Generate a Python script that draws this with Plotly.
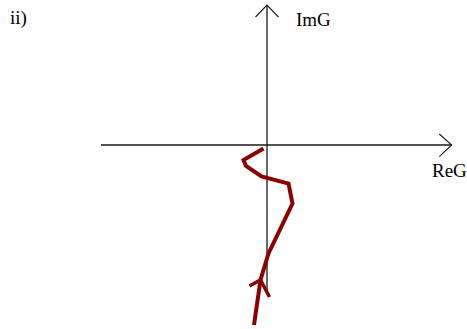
import plotly.graph_objects as go

# ---- data: Nyquist sketch of G (Re, Im) ----
re_g = [-0.07, -0.47, -0.42, -0.11, 0.43, 0.51, 0.03, -0.13, -0.26]
im_g = [-0.07, -0.30, -0.42, -0.63, -0.77, -1.17, -2.17, -2.70, -3.60]
arrow_index = 7  # point of the curve that carries the direction arrow

panel_label = "ii)"
x_label = "ReG"
y_label = "ImG"

# ---- layout constants ----
W, H = 467, 329
S = 50.0          # pixels per unit
OX, OY = 267, 145 # origin pixel position
x_range = [-OX / S, (W - OX) / S]
y_range = [(OY - H) / S, OY / S]

def du(px):
    return px / S

curve_color = "#8b0000"
axis_color = "#1a1a1a"

fig = go.Figure()

# horizontal axis with open arrow
fig.add_trace(go.Scatter(x=[du(101 - OX), du(451.7 - OX)], y=[0, 0], mode="lines",
                         line=dict(color=axis_color, width=1.3), hoverinfo="skip"))
fig.add_trace(go.Scatter(x=[du(439.3 - OX), du(451.7 - OX), du(439.3 - OX)],
                         y=[du(11), 0, du(-11.7)], mode="lines",
                         line=dict(color=axis_color, width=1.1), hoverinfo="skip"))
# vertical axis with open arrow
fig.add_trace(go.Scatter(x=[0, 0], y=[du(OY - 294), du(OY - 5)], mode="lines",
                         line=dict(color=axis_color, width=1.3), hoverinfo="skip"))
fig.add_trace(go.Scatter(x=[du(-11.5), 0, du(11.5)],
                         y=[du(OY - 17), du(OY - 5), du(OY - 17)], mode="lines",
                         line=dict(color=axis_color, width=1.1), hoverinfo="skip"))

# curve
fig.add_trace(go.Scatter(x=re_g, y=im_g, mode="lines",
                         line=dict(color=curve_color, width=4, shape="linear"),
                         hoverinfo="skip"))
# chevron arrow on the curve
tx, ty = re_g[arrow_index], im_g[arrow_index]
fig.add_trace(go.Scatter(x=[tx + du(-11), tx, tx + du(9)],
                         y=[ty + du(-6), ty, ty + du(-17)], mode="lines",
                         line=dict(color=curve_color, width=3.5), hoverinfo="skip"))

font = dict(family="Liberation Serif, Times New Roman, serif", size=19, color="#000000")

def label(text, px, py):
    fig.add_annotation(x=du(px - OX), y=du(OY - py), text=text, showarrow=False,
                       xanchor="left", yanchor="middle", font=font, borderpad=0)

label(panel_label, 8.5, 18)
label(y_label, 294.5, 19)
label(x_label, 430.5, 170)

fig.update_layout(
    width=W, height=H,
    margin=dict(l=0, r=0, t=0, b=0),
    paper_bgcolor="white", plot_bgcolor="white",
    showlegend=False,
    xaxis=dict(range=x_range, visible=False, fixedrange=True),
    yaxis=dict(range=y_range, visible=False, fixedrange=True),
)

fig.write_html("out.html", config={"displayModeBar": False},
               post_script="document.body.style.margin='0';document.body.style.overflow='hidden';")
